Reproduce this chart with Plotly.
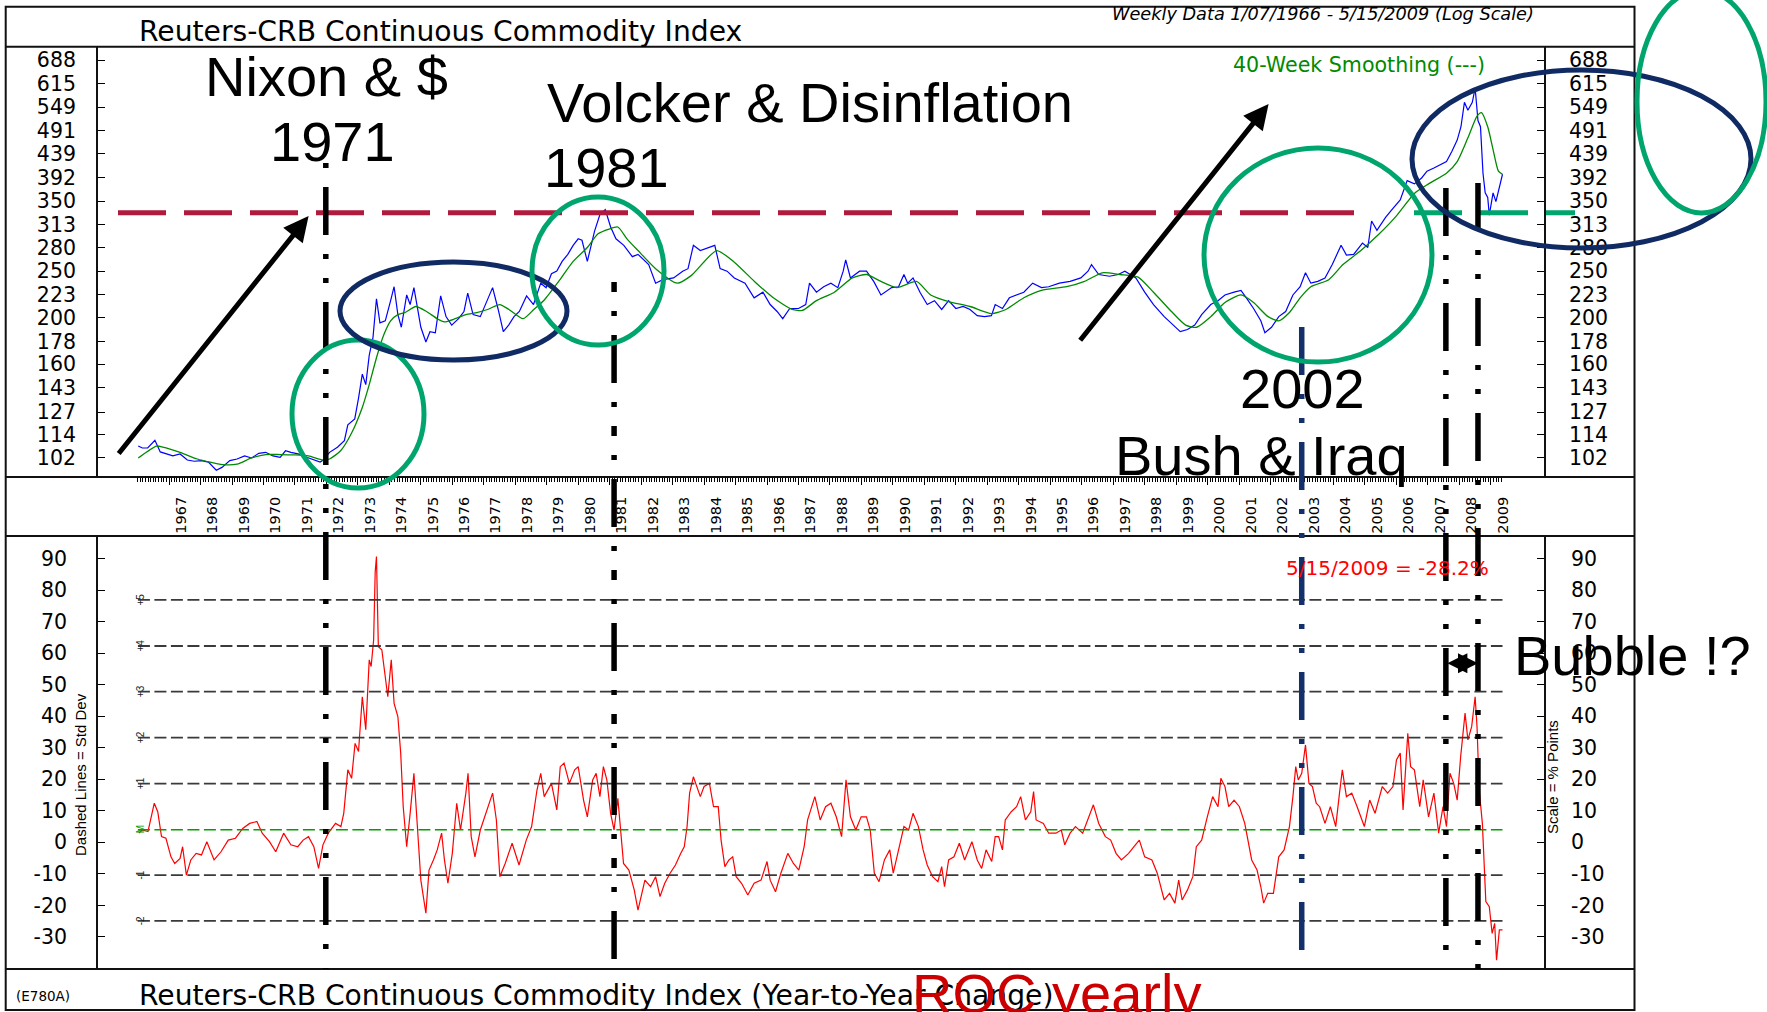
import math
import plotly.graph_objects as go

# ---------------- data ----------------
crb_years = [1966.02, 1966.15, 1966.32, 1966.55, 1966.72, 1966.9, 1967.12, 1967.35, 1967.58, 1967.8,
             1968.03, 1968.25, 1968.5, 1968.68, 1968.93, 1969.16, 1969.4, 1969.62, 1969.85, 1970.07,
             1970.3, 1970.53, 1970.7, 1970.87, 1971.1, 1971.33, 1971.55, 1971.8, 1971.9, 1972.1,
             1972.35, 1972.57, 1972.68, 1972.9, 1973.02, 1973.14, 1973.25, 1973.36, 1973.48, 1973.59,
             1973.7, 1973.87, 1974.04, 1974.15, 1974.27, 1974.38, 1974.55, 1974.66, 1974.78, 1974.89,
             1975.0, 1975.16, 1975.29, 1975.46, 1975.63, 1975.8, 1975.98, 1976.2, 1976.37, 1976.49,
             1976.66, 1976.89, 1977.1, 1977.28, 1977.45, 1977.62, 1977.79, 1977.96, 1978.13, 1978.36,
             1978.58, 1978.81, 1978.98, 1979.15, 1979.32, 1979.49, 1979.67, 1979.84, 1980.0, 1980.12,
             1980.29, 1980.52, 1980.69, 1980.86, 1981.03, 1981.2, 1981.45, 1981.72, 1981.9, 1982.24,
             1982.46, 1982.69, 1983.03, 1983.32, 1983.49, 1983.66, 1983.88, 1984.11, 1984.34, 1984.51,
             1984.73, 1984.96, 1985.3, 1985.59, 1985.87, 1986.1, 1986.32, 1986.5, 1986.72, 1987.0,
             1987.23, 1987.35, 1987.57, 1987.8, 1988.03, 1988.25, 1988.42, 1988.5, 1988.65, 1988.94,
             1989.16, 1989.39, 1989.62, 1989.96, 1990.18, 1990.35, 1990.47, 1990.64, 1990.86, 1991.09,
             1991.32, 1991.55, 1991.77, 1992.0, 1992.23, 1992.45, 1992.68, 1992.91, 1993.13, 1993.25,
             1993.48, 1993.7, 1993.93, 1994.16, 1994.44, 1994.72, 1994.95, 1995.29, 1995.63, 1995.97,
             1996.2, 1996.31, 1996.54, 1996.88, 1997.16, 1997.37, 1997.72, 1998.0, 1998.28, 1998.62,
             1998.91, 1999.13, 1999.36, 1999.59, 1999.81, 2000.1, 2000.33, 2000.55, 2000.84, 2001.06,
             2001.23, 2001.46, 2001.69, 2001.82, 2002.03, 2002.26, 2002.48, 2002.71, 2002.94, 2003.11,
             2003.28, 2003.5, 2003.73, 2003.96, 2004.24, 2004.41, 2004.64, 2004.92, 2005.09, 2005.21,
             2005.38, 2005.66, 2005.89, 2006.12, 2006.34, 2006.57, 2006.8, 2006.97, 2007.19, 2007.42,
             2007.59, 2007.76, 2007.93, 2008.05, 2008.16, 2008.27, 2008.41, 2008.5, 2008.59, 2008.67,
             2008.75, 2008.82, 2008.9, 2008.95, 2009.07, 2009.16, 2009.27, 2009.37]
crb_values = [108, 107, 107, 111, 105, 104, 103, 104, 101, 100.4,
              100.7, 100, 96.2, 97.5, 100.7, 101.5, 103, 102, 104.3, 104.8,
              103, 102.3, 105.6, 104.8, 104, 102.6, 101.5, 100, 101, 104.8,
              107.4, 110.8, 119.6, 123, 136, 152.5, 145, 167, 182, 219,
              195, 197, 217, 232, 203, 191, 223, 213, 231, 209,
              191, 178, 187, 186, 222, 201, 193, 199, 206, 225,
              203, 201, 217, 231, 209, 187, 193, 201, 206, 222,
              213, 236, 231, 247, 250, 262, 271, 283, 292, 290,
              262, 303, 328, 336, 309, 292, 283, 268, 271, 258,
              236, 240, 242, 250, 253, 283, 276, 280, 283, 253,
              250, 242, 236, 220, 226, 213, 206, 199, 209, 209,
              213, 236, 226, 232, 236, 231, 250, 264, 242, 250,
              250, 238, 223, 231, 232, 246, 236, 242, 226, 213,
              217, 208, 217, 209, 211, 208, 202, 201, 202, 213,
              209, 220, 223, 226, 236, 231, 232, 236, 238, 242,
              250, 258, 246, 244, 246, 250, 242, 226, 213, 201,
              193, 187, 189, 193, 203, 213, 217, 223, 226, 228,
              220, 209, 197, 186, 191, 201, 206, 223, 232, 248,
              236, 238, 242, 258, 283, 270, 271, 286, 280, 318,
              304, 324, 338, 352, 386, 380, 391, 404, 410, 417,
              423, 444, 469, 500, 562, 541, 562, 602, 515, 500,
              400, 364, 356, 327, 364, 349, 375, 398]

ma_years = [1966.02, 1966.6, 1966.8, 1967.35, 1967.9, 1968.7, 1969.16, 1969.62, 1970.07, 1970.53,
            1970.98, 1971.43, 1971.89, 1972.1, 1972.45, 1972.8, 1973.14, 1973.36, 1973.59, 1973.82,
            1974.04, 1974.27, 1974.5, 1974.84, 1975.18, 1975.52, 1975.75, 1976.09, 1976.43, 1976.78,
            1977.12, 1977.51, 1977.8, 1978.25, 1978.59, 1978.93, 1979.38, 1979.84, 1980.29, 1980.63,
            1980.98, 1981.26, 1981.55, 1981.9, 1982.46, 1983.15, 1983.6, 1984.4, 1984.96, 1985.6,
            1986.2, 1986.8, 1987.12, 1987.57, 1988.14, 1988.71, 1989.16, 1989.62, 1990.13, 1990.75,
            1991.2, 1991.77, 1992.45, 1993.13, 1993.59, 1994.16, 1994.72, 1995.52, 1996.09, 1996.65,
            1997.22, 1997.79, 1998.28, 1998.85, 1999.3, 1999.65, 2000.1, 2000.55, 2001.06, 2001.46,
            2001.92, 2002.26, 2002.6, 2002.94, 2003.28, 2003.85, 2004.3, 2004.87, 2005.43, 2006.0,
            2006.57, 2007.02, 2007.59, 2007.93, 2008.27, 2008.56, 2008.7, 2008.9, 2009.07, 2009.24,
            2009.37]
ma_values = [102, 108, 107.5, 104.8, 101.5, 98.8, 99, 102, 103.7, 103.7,
             103.5, 103, 101, 101.5, 105.6, 115, 130, 145, 165, 184,
             197, 203, 205, 211, 206, 199, 196, 199, 203, 205,
             208, 213, 208, 199, 208, 218, 238, 262, 280, 299,
             306, 309, 292, 276, 253, 236, 245, 276, 261, 238,
             220, 208, 207, 217, 226, 242, 246, 238, 231, 238,
             223, 216, 211, 204, 208, 220, 228, 232, 238, 248,
             246, 243, 226, 206, 193, 191, 201, 215, 223, 215,
             201, 197, 205, 220, 232, 240, 258, 276, 298, 326,
             363, 380, 400, 423, 474, 526, 535, 500, 448, 404,
             398]

roc_years = [1966.04, 1966.15, 1966.33, 1966.44, 1966.53, 1966.64, 1966.76, 1966.9, 1967.06, 1967.18,
             1967.35, 1967.43, 1967.55, 1967.69, 1967.86, 1968.03, 1968.2, 1968.43, 1968.65, 1968.88,
             1969.11, 1969.34, 1969.56, 1969.79, 1969.96, 1970.19, 1970.39, 1970.64, 1970.87, 1971.09,
             1971.26, 1971.43, 1971.6, 1971.75, 1971.89, 1972.06, 1972.29, 1972.46, 1972.55, 1972.68,
             1972.8, 1972.91, 1973.02, 1973.14, 1973.25, 1973.36, 1973.42, 1973.5, 1973.55, 1973.59,
             1973.65, 1973.76, 1973.87, 1973.95, 1974.06, 1974.15, 1974.27, 1974.36, 1974.44, 1974.55,
             1974.66, 1974.78, 1974.89, 1975.0, 1975.16, 1975.26, 1975.4, 1975.52, 1975.66, 1975.75,
             1975.86, 1976.0, 1976.14, 1976.26, 1976.43, 1976.5, 1976.6, 1976.72, 1976.89, 1977.11,
             1977.28, 1977.4, 1977.51, 1977.68, 1977.9, 1978.12, 1978.35, 1978.52, 1978.69, 1978.81,
             1978.92, 1979.15, 1979.32, 1979.43, 1979.55, 1979.72, 1979.89, 1980.0, 1980.17, 1980.29,
             1980.46, 1980.57, 1980.69, 1980.8, 1980.91, 1981.03, 1981.14, 1981.26, 1981.44, 1981.61,
             1981.78, 1981.9, 1982.01, 1982.12, 1982.3, 1982.46, 1982.6, 1982.75, 1982.92, 1983.09,
             1983.26, 1983.37, 1983.46, 1983.54, 1983.66, 1983.77, 1983.88, 1984.0, 1984.17, 1984.3,
             1984.45, 1984.54, 1984.66, 1984.79, 1984.91, 1985.02, 1985.19, 1985.39, 1985.59, 1985.81,
             1986.0, 1986.1, 1986.27, 1986.44, 1986.66, 1986.84, 1987.01, 1987.18, 1987.29, 1987.52,
             1987.69, 1987.86, 1988.03, 1988.2, 1988.37, 1988.51, 1988.65, 1988.82, 1988.99, 1989.16,
             1989.28, 1989.41, 1989.56, 1989.73, 1989.9, 1990.01, 1990.18, 1990.35, 1990.5, 1990.64,
             1990.81, 1990.96, 1991.09, 1991.26, 1991.43, 1991.55, 1991.64, 1991.77, 1991.94, 1992.11,
             1992.28, 1992.51, 1992.68, 1992.82, 1992.96, 1993.14, 1993.25, 1993.36, 1993.48, 1993.57,
             1993.76, 1993.93, 1994.06, 1994.21, 1994.38, 1994.47, 1994.55, 1994.78, 1994.95, 1995.18,
             1995.35, 1995.46, 1995.63, 1995.8, 1996.03, 1996.2, 1996.37, 1996.54, 1996.75, 1996.92,
             1997.09, 1997.26, 1997.49, 1997.66, 1997.83, 1998.0, 1998.23, 1998.4, 1998.51, 1998.62,
             1998.79, 1998.96, 1999.08, 1999.19, 1999.36, 1999.53, 1999.64, 1999.81, 1999.99, 2000.16,
             2000.33, 2000.42, 2000.55, 2000.67, 2000.84, 2001.01, 2001.18, 2001.29, 2001.4, 2001.57,
             2001.69, 2001.78, 2001.91, 2002.09, 2002.26, 2002.43, 2002.6, 2002.71, 2002.8, 2002.88,
             2002.99, 2003.11, 2003.22, 2003.33, 2003.45, 2003.56, 2003.73, 2003.9, 2004.07, 2004.19,
             2004.28, 2004.41, 2004.58, 2004.75, 2004.98, 2005.15, 2005.32, 2005.55, 2005.72, 2005.89,
             2006.0, 2006.12, 2006.21, 2006.36, 2006.45, 2006.57, 2006.74, 2006.85, 2007.02, 2007.19,
             2007.34, 2007.48, 2007.59, 2007.7, 2007.82, 2007.93, 2008.04, 2008.18, 2008.27, 2008.39,
             2008.5, 2008.56, 2008.63, 2008.73, 2008.78, 2008.84, 2008.95, 2009.04, 2009.12, 2009.18,
             2009.27, 2009.37]
roc_values = [2.9, 3.9, 3.4, 8.1, 12.4, 9.7, 1.8, 1.3, -4.6, -6.7,
              -5.1, -1.4, -10.4, -5.6, -3.5, -4.0, 0.2, -5.6, -3.0, 0.7,
              1.3, 4.4, 6.0, 6.6, 2.9, 0.2, -3.0, 2.9, -0.8, -1.4,
              0.7, 1.8, -1.4, -8.3, -0.8, 2.9, 6.0, 5.0, 9.2, 23.0,
              20.3, 31.4, 28.8, 46.2, 35.7, 57.9, 55.8, 64.2, 85.9, 90.7,
              62.1, 61.1, 51.5, 46.2, 57.9, 44.1, 39.9, 28.3, 11.3, -1.4,
              9.2, 21.9, 5.0, -12.0, -22.5, -8.8, -5.6, -2.4, 2.9, -5.6,
              -13.0, -3.5, 12.4, 3.9, 15.6, 21.9, 1.8, -4.6, 3.9, 10.3,
              15.6, 7.1, -10.9, -6.7, -0.3, -7.2, 0.7, 5.0, 16.6, 21.9,
              14.5, 18.7, 10.3, 24.0, 25.1, 18.7, 23.0, 24.0, 13.4, 8.1,
              19.8, 21.9, 14.5, 24.0, 19.8, 9.2, 3.9, 14.0, -6.7, -8.8,
              -15.1, -21.5, -17.2, -12.0, -14.1, -10.9, -17.2, -13.0, -9.8, -7.2,
              -3.5, -1.4, 5.0, 15.6, 20.8, 17.7, 14.5, 17.7, 18.7, 11.3,
              11.3, 0.7, -7.7, -5.6, -4.6, -10.9, -13.0, -16.7, -13.0, -12.0,
              -6.1, -12.0, -15.7, -9.8, -3.5, -6.7, -8.8, -1.4, 7.1, 14.5,
              7.1, 11.3, 12.4, 8.1, 1.8, 19.8, 8.1, 3.9, 8.1, 8.1,
              3.9, -9.8, -12.5, -5.6, -2.4, -9.8, -2.4, 5.0, 3.9, 9.2,
              5.0, -2.4, -7.2, -10.9, -12.5, -7.7, -14.1, -5.6, -4.6, -0.3,
              -5.6, 0.2, -5.6, -8.3, -2.4, -6.1, 1.8, 1.8, -2.4, 7.1,
              9.7, 11.3, 14.5, 7.1, 9.7, 16.1, 7.1, 6.0, 2.9, 2.9,
              3.9, -0.8, 2.9, 5.0, 2.9, 7.1, 11.9, 6.0, 1.8, 0.7,
              -3.5, -5.6, -3.5, -1.4, 0.7, -4.6, -5.6, -9.8, -14.1, -18.3,
              -16.2, -19.3, -12.0, -18.3, -15.1, -10.9, -1.4, 0.7, 8.1, 14.5,
              11.3, 20.3, 17.7, 11.3, 13.4, 11.3, 6.0, 0.7, -5.6, -8.8,
              -14.1, -19.3, -16.2, -16.2, -4.6, -2.4, 5.0, 14.5, 24.0, 19.8,
              21.9, 30.9, 18.7, 17.7, 12.4, 11.3, 6.0, 11.3, 5.0, 15.6,
              23.0, 14.5, 15.6, 11.3, 5.0, 13.4, 9.2, 17.7, 15.6, 17.7,
              26.1, 28.3, 10.3, 34.6, 24.0, 23.0, 11.3, 19.8, 8.1, 15.6,
              2.9, 11.3, 5.0, 21.9, 18.7, 13.4, 27.2, 41.0, 32.5, 36.7,
              46.2, 36.7, 16.6, 6.0, -5.6, -18.8, -20.4, -28.9, -25.7, -37.4,
              -27.8, -27.8]

upper_ticks = [102, 114, 127, 143, 160, 178, 200, 223, 250, 280, 313, 350, 392, 439, 491, 549, 615, 688]
lower_ticks = [-30, -20, -10, 0, 10, 20, 30, 40, 50, 60, 70, 80, 90]
year_labels = list(range(1967, 2010))
std_levels = [-24.9, -10.4, 4.0, 18.6, 33.2, 47.8, 62.3, 76.9]
std_names = ["-2", "-1", "M", "+1", "+2", "+3", "+4", "+5"]
resistance_level = 331
event_years = [1971.98, 1981.14, 2002.99, 2007.57, 2008.59]

# ---------------- geometry ----------------
W, H = 1767, 1012
ML, MR, MT, MB = 97, 222, 47, 43
PW, PH = W - ML - MR, H - MT - MB
X_RANGE = [1964.71, 2010.72]
UP_RANGE = [math.log10(93.1), math.log10(733)]
LOW_RANGE = [-40.2, 97.2]
UP_DOM = [(H - MB - 477) / PH, 1.0]
LOW_DOM = [0.0, (H - MB - 536) / PH]


def px(x):
    return (x - ML) / PW


def py(y):
    return (H - MB - y) / PH


ARIAL = "Liberation Sans, Arial, sans-serif"
DEJA = "DejaVu Sans, sans-serif"

fig = go.Figure()
fig.add_trace(go.Scatter(x=crb_years, y=crb_values, mode="lines", line=dict(color="#0000FF", width=1.2),
                         xaxis="x", yaxis="y", hoverinfo="skip"))
fig.add_trace(go.Scatter(x=ma_years, y=ma_values, mode="lines",
                         line=dict(color="#008A00", width=1.3, shape="spline", smoothing=0.6),
                         xaxis="x", yaxis="y", hoverinfo="skip"))
fig.add_trace(go.Scatter(x=roc_years, y=roc_values, mode="lines", line=dict(color="#FF0000", width=1.2),
                         xaxis="x2", yaxis="y2", hoverinfo="skip"))
# carriers for the right-hand axes
fig.add_trace(go.Scatter(x=crb_years[:1], y=crb_values[:1], mode="markers", marker=dict(opacity=0),
                         xaxis="x", yaxis="y3", hoverinfo="skip"))
fig.add_trace(go.Scatter(x=roc_years[:1], y=roc_values[:1], mode="markers", marker=dict(opacity=0),
                         xaxis="x2", yaxis="y4", hoverinfo="skip"))

tickfont = dict(family=DEJA, size=20.5, color="black")
ytick_common = dict(ticks="inside", ticklen=8, tickwidth=1.2, tickcolor="black", showgrid=False,
                    zeroline=False, showline=False, tickfont=tickfont)

fig.update_layout(
    width=W, height=H, showlegend=False, hovermode=False,
    paper_bgcolor="white", plot_bgcolor="white",
    margin=dict(l=ML, r=MR, t=MT, b=MB, pad=0),
    xaxis=dict(domain=[0, 1], anchor="y", range=X_RANGE, tickmode="array", tickvals=year_labels,
               ticktext=[str(y) for y in year_labels], tickangle=-90, ticks="outside", ticklen=7,
               tickwidth=1, tickcolor="black", ticklabelshift=12, ticklabelstandoff=6,
               tickfont=dict(family=DEJA, size=14.5, color="black"), showgrid=False, zeroline=False,
               showline=False,
               minor=dict(tickmode="array", tickvals=[1966 + m / 12 for m in range(0, 12 * 43 + 5)],
                          ticks="outside", ticklen=4, tickwidth=1, tickcolor="black", showgrid=False)),
    xaxis2=dict(domain=[0, 1], anchor="y2", range=X_RANGE, showticklabels=False, ticks="",
                showgrid=False, zeroline=False, showline=False),
    yaxis=dict(domain=UP_DOM, anchor="x", type="log", range=UP_RANGE, tickmode="array",
               tickvals=upper_ticks, ticktext=[str(v) for v in upper_ticks], ticklabelstandoff=20,
               **ytick_common),
    yaxis3=dict(overlaying="y", side="right", anchor="x", type="log", range=UP_RANGE, tickmode="array",
                tickvals=upper_ticks, ticktext=[str(v) for v in upper_ticks], ticklabelstandoff=23,
                **ytick_common),
    yaxis2=dict(domain=LOW_DOM, anchor="x2", range=LOW_RANGE, tickmode="array", tickvals=lower_ticks,
                ticktext=[str(v) for v in lower_ticks], ticklabelstandoff=29, **ytick_common),
    yaxis4=dict(overlaying="y2", side="right", anchor="x2", range=LOW_RANGE, tickmode="array",
                tickvals=lower_ticks, ticktext=[str(v) for v in lower_ticks], ticklabelstandoff=25,
                **ytick_common),
)

shapes = []
FRAME = dict(color="#111111", width=2)
XL, XR = px(5.7), px(1634.5)
shapes.append(dict(type="rect", xref="paper", yref="paper", x0=XL, x1=XR, y0=py(1010), y1=py(6.7),
                   line=FRAME, layer="above"))
for yy in [46.7, 477, 536, 969]:
    shapes.append(dict(type="line", xref="paper", yref="paper", x0=XL, x1=XR, y0=py(yy), y1=py(yy),
                       line=FRAME, layer="above"))
for xx in [97, 1545]:
    for (a, b) in [(46.7, 477), (536, 969)]:
        shapes.append(dict(type="line", xref="paper", yref="paper", x0=px(xx), x1=px(xx), y0=py(a), y1=py(b),
                           line=FRAME, layer="above"))

# standard deviation bands in ROC panel
for lvl, name in zip(std_levels, std_names):
    col = "#00A000" if name == "M" else "#3a3a3a"
    shapes.append(dict(type="line", xref="x2", yref="y2", x0=1966.01, x1=2009.37, y0=lvl, y1=lvl,
                       line=dict(color=col, width=1.6 if name == "M" else 1.8, dash="12px,4.5px"),
                       layer="above"))

# resistance line (log scale position through the axis range)
frac = (math.log10(resistance_level) - UP_RANGE[0]) / (UP_RANGE[1] - UP_RANGE[0])
shapes.append(dict(type="line", xref="paper", yref="y domain", x0=px(118), x1=px(1354), y0=frac, y1=frac,
                   line=dict(color="#B01A3C", width=5, dash="48px,18px"), layer="above"))
shapes.append(dict(type="line", xref="paper", yref="y domain", x0=px(1414), x1=px(1575), y0=frac, y1=frac,
                   line=dict(color="#00A56E", width=5, dash="48px,18px"), layer="above"))

# event lines
tops = [163, 282, 327, 188, 183]
colors = ["#000000", "#000000", "#13306B", "#000000", "#000000"]
dashes = ["5px,19px,48px,19px,5px,19px", "10px,19px,5px,19px,48px,19px,5px,19px",
          "48px,19px,5px,19px,5px,19px", "48px,19px,5px,19px,5px,19px", "48px,19px,5px,19px,5px,19px"]
for xv, top, col, d in zip(event_years, tops, colors, dashes):
    shapes.append(dict(type="line", xref="x", yref="paper", x0=xv, x1=xv, y0=py(top), y1=py(969),
                       line=dict(color=col, width=5.5, dash=d), layer="above"))

# highlighting ellipses
GREEN = "#00A56E"
NAVY = "#102A64"
ellipses = [
    (292, 424, 340, 488, GREEN),
    (340, 567, 262, 360, NAVY),
    (532, 664, 197, 345, GREEN),
    (1204, 1432, 148, 362, GREEN),
    (1412, 1751, 70, 248, NAVY),
    (1637, 1766, -10, 213, GREEN),
]
for x0, x1, y0, y1, col in ellipses:
    shapes.append(dict(type="circle", xref="paper", yref="paper", x0=px(x0), x1=px(x1), y0=py(y1), y1=py(y0),
                       line=dict(color=col, width=5), layer="above"))

fig.update_layout(shapes=shapes)

ann = []


def label(text, x, y, size, color="black", family=ARIAL, xanchor="center", yanchor="middle", angle=0):
    ann.append(dict(text=text, x=px(x), y=py(y), xref="paper", yref="paper", showarrow=False,
                    font=dict(family=family, size=size, color=color), xanchor=xanchor, yanchor=yanchor,
                    textangle=angle))


label("Reuters-CRB Continuous Commodity Index", 136.5, 31.5, 28.2, family=DEJA, xanchor="left")
label("<i>Weekly Data 1/07/1966 - 5/15/2009 (Log Scale)</i>", 1110, 14.5, 17.7, family=DEJA, xanchor="left")
label("40-Week Smoothing (---)", 1231, 65, 20.6, color="#008A00", family=DEJA, xanchor="left")
label("5/15/2009 = -28.2%", 1284, 568, 20, color="#FF0000", family=DEJA, xanchor="left")
label("(E780A)", 13.5, 996, 13.5, family=DEJA, xanchor="left")
label("Reuters-CRB Continuous Commodity Index (Year-to-Year Change)", 136.5, 995, 28.2, family=DEJA,
      xanchor="left")
label("Dashed Lines = Std Dev", 80, 775, 15, family=ARIAL, angle=-90)
label("Scale = % Points", 1552, 777, 15, family=ARIAL, angle=-90)

for lvl, name in zip(std_levels, std_names):
    ann.append(dict(text=name, x=px(133), y=lvl, xref="paper", yref="y2", showarrow=False, textangle=-90,
                    font=dict(family=ARIAL, size=10, color="#00A000" if name == "M" else "#222222")))

BIG = 56
label("Nixon & $", 326, 76, BIG)
label("1971", 332, 142, BIG)
label("Volcker & Disinflation", 810, 102, BIG)
label("1981", 606, 167, BIG)
label("2002", 1302, 389, BIG)
label("Bush & Iraq", 1261, 455, BIG)
label("Bubble !?", 1632, 655, BIG)
label("ROC yearly", 1056, 993, BIG, color="#CC0000")

# trend arrows
for (hx, hy, tx, ty) in [(308.6, 216, 117.5, 455), (1268.6, 104, 1079, 341.7)]:
    ann.append(dict(text="", x=px(hx), y=py(hy), xref="paper", yref="paper", showarrow=True,
                    ax=tx - hx, ay=ty - hy, axref="pixel", ayref="pixel", arrowhead=2, arrowsize=1,
                    arrowwidth=5, arrowcolor="#000000"))
# bubble span arrow
ann.append(dict(text="", x=event_years[4], y=56.8, xref="x2", yref="y2", showarrow=True,
                ax=-(event_years[4] - event_years[3]) * PW / (X_RANGE[1] - X_RANGE[0]), ay=0,
                axref="pixel", ayref="pixel", arrowhead=2, arrowside="end+start", arrowsize=1.6,
                arrowwidth=2.5, arrowcolor="#000000"))

fig.update_layout(annotations=ann)

fig.write_html("out.html", config={"displayModeBar": False},
               post_script="document.body.style.margin='0px';")
